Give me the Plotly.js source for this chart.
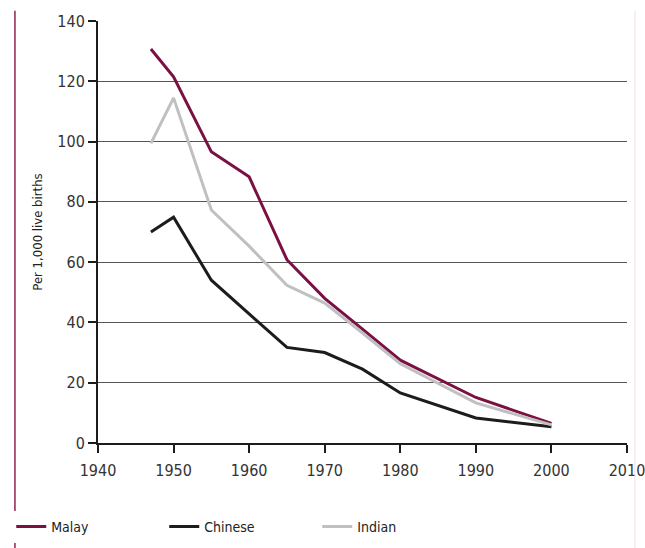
<!DOCTYPE html>
<html><head><meta charset="utf-8">
<script src="https://cdn.plot.ly/plotly-3.0.1.min.js"></script>
<style>html,body{margin:0;padding:0;background:#fff}#chart{width:645px;height:548px}</style>
</head><body><div id="chart"></div>
<script>
const years = [1947, 1950, 1955, 1960, 1965, 1970, 1975, 1980, 1990, 2000];
const malay = [130.7, 121.5, 96.6, 88.3, 60.8, 48, 37.8, 27.5, 15.1, 6.5];
const chinese = [70, 74.9, 54, 43, 31.7, 30, 24.5, 16.6, 8.3, 5.4];
const indian = [99.4, 114.5, 77.3, 65.3, 52.3, 46.4, 36.5, 26.3, 13.3, 6];
const seriesNames = ['Malay', 'Chinese', 'Indian'];
const xTicks = [1940, 1950, 1960, 1970, 1980, 1990, 2000, 2010];
const yTicks = [0, 20, 40, 60, 80, 100, 120, 140];
const gridTicks = [20, 40, 60, 80, 100, 120];

const font = "'DejaVu Sans Condensed', 'Liberation Sans Narrow', 'Roboto', sans-serif";
const colors = ['#7b1042', '#1c1c1c', '#c0c0c2'];
const data = [malay, chinese, indian].map((v, i) => ({
  x: years, y: v, type: 'scatter', mode: 'lines', name: seriesNames[i],
  line: {color: colors[i], width: 3}
}));
data.push({x: [1940], y: [0], yaxis: 'y2', type: 'scatter', mode: 'none', showlegend: false, hoverinfo: 'skip'});

const layout = {
  width: 645, height: 548,
  margin: {l: 98, r: 18, t: 21, b: 105, autoexpand: false},
  paper_bgcolor: '#fff', plot_bgcolor: '#fff',
  font: {family: font, color: '#333', size: 16},
  showlegend: true,
  legend: {orientation: 'h', x: -0.164, xanchor: 'left', y: -0.199, yanchor: 'middle',
    font: {family: font, size: 14, color: '#222'}, entrywidth: 108, entrywidthmode: 'pixels', itemwidth: 30,
    tracegroupgap: 0},
  xaxis: {range: [1940, 2010], tickvals: xTicks, ticktext: xTicks.map(String), automargin: false,
    showgrid: false, zeroline: false, showline: true, linecolor: '#1c1c1c', linewidth: 2,
    ticks: 'outside', ticklen: 8, tickwidth: 2, tickcolor: '#1c1c1c', ticklabeloverflow: 'allow',
    ticklabelstandoff: 4,
    tickfont: {family: font, size: 16, color: '#333'}},
  yaxis: {range: [0, 140], tickvals: yTicks, ticktext: yTicks.map(String), automargin: false,
    showgrid: false, zeroline: false, showline: true, linecolor: '#1c1c1c', linewidth: 2,
    ticks: 'outside', ticklen: 8, tickwidth: 2, tickcolor: '#1c1c1c', ticklabeloverflow: 'allow',
    tickfont: {family: font, size: 16, color: '#333'},
    title: {text: 'Per 1,000 live births', font: {family: font, size: 13, color: '#222'}, standoff: 12}},
  yaxis2: {range: [0, 140], overlaying: 'y', tickvals: gridTicks, showticklabels: false,
    showgrid: true, gridcolor: '#555', gridwidth: 1, zeroline: false, showline: false, ticks: ''},
  shapes: [
    {type: 'line', xref: 'paper', yref: 'paper', x0: -0.157, x1: -0.157, y0: 1.024, y1: -0.26,
      line: {color: '#8a2350', width: 1.5}},
    {type: 'line', xref: 'paper', yref: 'paper', x0: 1.015, x1: 1.015, y0: 1.024, y1: -0.26,
      line: {color: '#f3dde6', width: 1}}
  ]
};
Plotly.newPlot('chart', data, layout, {displayModeBar: false, staticPlot: true});
</script></body></html>
